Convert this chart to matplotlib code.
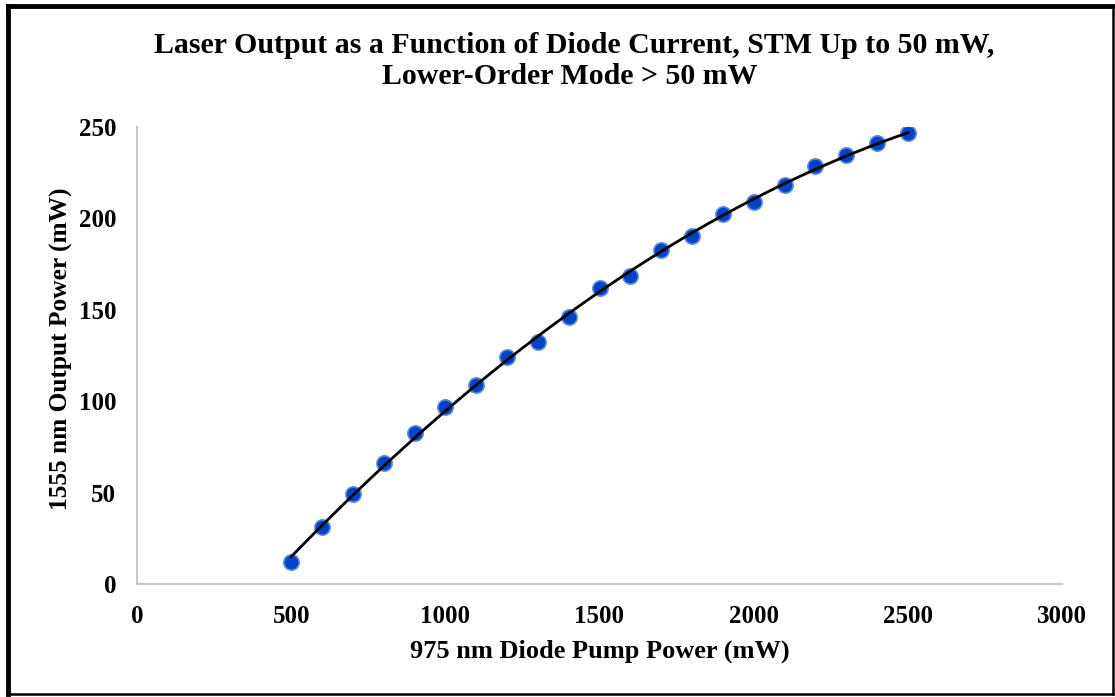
import numpy as np
import matplotlib
matplotlib.use("Agg")
import matplotlib.pyplot as plt
from matplotlib.lines import Line2D

pump_mw = [500, 600, 700, 800, 900, 1000, 1100, 1200, 1300, 1400, 1500,
           1600, 1700, 1800, 1900, 2000, 2100, 2200, 2300, 2400, 2500]
output_mw = [12.0, 31.2, 49.2, 66.2, 82.6, 96.8, 108.9, 124.2, 132.4, 146.0, 162.0,
             168.5, 182.7, 190.4, 202.4, 209.0, 218.3, 228.7, 234.7, 241.2, 246.7]
x_ticks = [0, 500, 1000, 1500, 2000, 2500, 3000]
y_ticks = [0, 50, 100, 150, 200, 250]

plt.rcParams['font.family'] = ['Liberation Serif', 'DejaVu Serif']
plt.rcParams['font.weight'] = 'bold'

W, H = 1115, 697
fig = plt.figure(figsize=(W / 100, H / 100), dpi=100)
ax = fig.add_axes([137 / W, 1 - 584 / H, (1062 - 137) / W, (584 - 127) / H])

# polynomial trendline (order 2) fitted to the data
coef = np.polyfit(pump_mw, output_mw, 2)
xs = np.linspace(min(pump_mw), max(pump_mw), 300)
ax.plot(pump_mw, output_mw, 'o', ms=11, color='#0043C8', mec='#5F8DD6', mew=1.2, zorder=2)
ax.plot(xs, np.polyval(coef, xs), color='black', lw=2, zorder=3)

ax.set_xlim(0, 3000)
ax.set_ylim(0, 250)
ax.set_xticks(x_ticks)
ax.set_yticks(y_ticks)
ax.tick_params(length=0, labelsize=18)
ax.tick_params(axis='x', pad=15)
ax.tick_params(axis='y', pad=15)
for lab in ax.get_xticklabels() + ax.get_yticklabels():
    lab.set_fontweight('bold')
for s in ['top', 'right']:
    ax.spines[s].set_visible(False)
for s in ['left', 'bottom']:
    ax.spines[s].set_color('#C8C8C8')
    ax.spines[s].set_linewidth(1.5)

fig.text(574 / W, 1 - 53 / H, 'Laser Output as a Function of Diode Current, STM Up to 50 mW,',
         ha='center', va='baseline', fontsize=21.5, fontweight='bold')
fig.text(570 / W, 1 - 84 / H, 'Lower-Order Mode > 50 mW',
         ha='center', va='baseline', fontsize=21.5, fontweight='bold')
fig.text(600 / W, 1 - 651 / H, '975 nm Diode Pump Power (mW)', ha='center', va='center',
         fontsize=19, fontweight='bold')
fig.text(61 / W, 1 - 349 / H, '1555 nm Output Power (mW)', ha='center', va='center',
         rotation=90, fontsize=18.3, fontweight='bold')

# outer frame
def fl(x0, y0, x1, y1, lw):
    fig.add_artist(Line2D([x0 / W, x1 / W], [1 - y0 / H, 1 - y1 / H], color='black', lw=lw,
                          transform=fig.transFigure, solid_capstyle='projecting'))
fl(8, 5.5, 1113, 5.5, 3.5)
fl(8, 5.5, 8, 694, 3.5)
fl(1113, 5.5, 1113, 694, 1.8)
fl(8, 694, 1113, 694, 1.8)

fig.savefig('out.png', dpi=100)
